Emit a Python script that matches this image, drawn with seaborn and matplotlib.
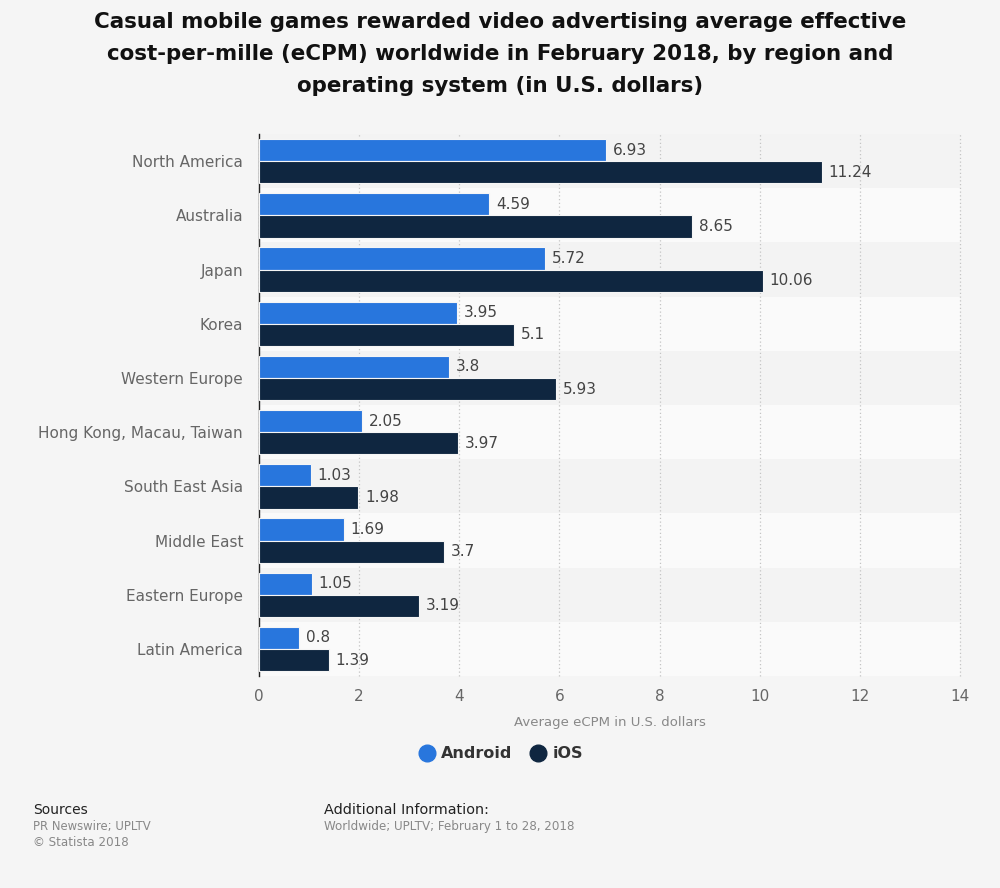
import matplotlib
matplotlib.use("Agg")
import matplotlib.pyplot as plt
import seaborn as sns
import pandas as pd
from matplotlib.lines import Line2D

regions = ["North America", "Australia", "Japan", "Korea", "Western Europe",
           "Hong Kong, Macau, Taiwan", "South East Asia", "Middle East",
           "Eastern Europe", "Latin America"]
android = [6.93, 4.59, 5.72, 3.95, 3.8, 2.05, 1.03, 1.69, 1.05, 0.8]
ios = [11.24, 8.65, 10.06, 5.1, 5.93, 3.97, 1.98, 3.7, 3.19, 1.39]
series = ["Android", "iOS"]
colors = ["#2876dd", "#0f2640"]
xticks = [0, 2, 4, 6, 8, 10, 12, 14]

df = pd.DataFrame({
    "region": regions * 2,
    "value": android + ios,
    "os": ["Android"] * len(regions) + ["iOS"] * len(regions),
})

sns.set_theme(style="white")
plt.rcParams['font.family'] = ['DejaVu Sans']

fig = plt.figure(figsize=(10, 8.88), dpi=100, facecolor="#f5f5f5")
ax = fig.add_axes([0.259, 0.2387, 0.701, 0.6103])
ax.set_facecolor("#f5f5f5")

for i in range(len(regions)):
    ax.axhspan(i - 0.5, i + 0.5, color="#f3f3f3" if i % 2 == 0 else "#fafafa", zorder=0, lw=0)

sns.barplot(data=df, x="value", y="region", hue="os", order=regions, hue_order=series,
            palette=colors, saturation=1, width=0.82, edgecolor="#f5f5f5", linewidth=0.8,
            orient="h", ax=ax, legend=False, zorder=3)

for cont in ax.containers:
    ax.bar_label(cont, labels=[f"{v:g}" for v in cont.datavalues], padding=5,
                 fontsize=11, color="#444444")

ax.set_xlim(0, 14.0)
ax.set_ylim(len(regions) - 0.5, -0.5)
ax.set_xticks(xticks)
ax.set_xticklabels([str(t) for t in xticks])
ax.xaxis.grid(True, linestyle=(0, (1, 2)), color="#c4c4c4", linewidth=0.9, zorder=1, clip_on=False)
ax.set_axisbelow(True)
ax.tick_params(axis="x", colors="#666666", labelsize=11, length=0, pad=9)
ax.tick_params(axis="y", colors="#666666", labelsize=11, length=0, pad=11.5)
ax.set_ylabel("")
ax.set_xlabel("Average eCPM in U.S. dollars", color="#888888", fontsize=9.5, labelpad=9)
for s in ["top", "right", "bottom"]:
    ax.spines[s].set_visible(False)
ax.spines["left"].set_color("#222222")
ax.spines["left"].set_linewidth(1)

fig.text(0.5, 0.987, "Casual mobile games rewarded video advertising average effective\n"
         "cost-per-mille (eCPM) worldwide in February 2018, by region and\n"
         "operating system (in U.S. dollars)", ha="center", va="top",
         fontsize=15.4, fontweight="bold", color="#111111", linespacing=1.76)

handles = [Line2D([0], [0], marker="o", color="none", markerfacecolor=c, markeredgecolor=c,
                  markersize=12) for c in colors]
leg = fig.legend(handles, series, loc="center", bbox_to_anchor=(0.5, 0.151), ncol=2,
                 frameon=False, prop={"weight": "bold", "size": 11.5}, handletextpad=0.3,
                 columnspacing=1.0, handlelength=1.2)
for t in leg.get_texts():
    t.set_color("#333333")

fig.text(0.033, 0.088, "Sources", fontsize=10, color="#222222", va="center")
fig.text(0.033, 0.069, "PR Newswire; UPLTV", fontsize=8.4, color="#888888", va="center")
fig.text(0.033, 0.051, "© Statista 2018", fontsize=8.6, color="#888888", va="center")
fig.text(0.324, 0.088, "Additional Information:", fontsize=10.4, color="#222222", va="center")
fig.text(0.324, 0.069, "Worldwide; UPLTV; February 1 to 28, 2018", fontsize=8.6, color="#888888", va="center")

fig.savefig("out.png", dpi=100, facecolor=fig.get_facecolor())
